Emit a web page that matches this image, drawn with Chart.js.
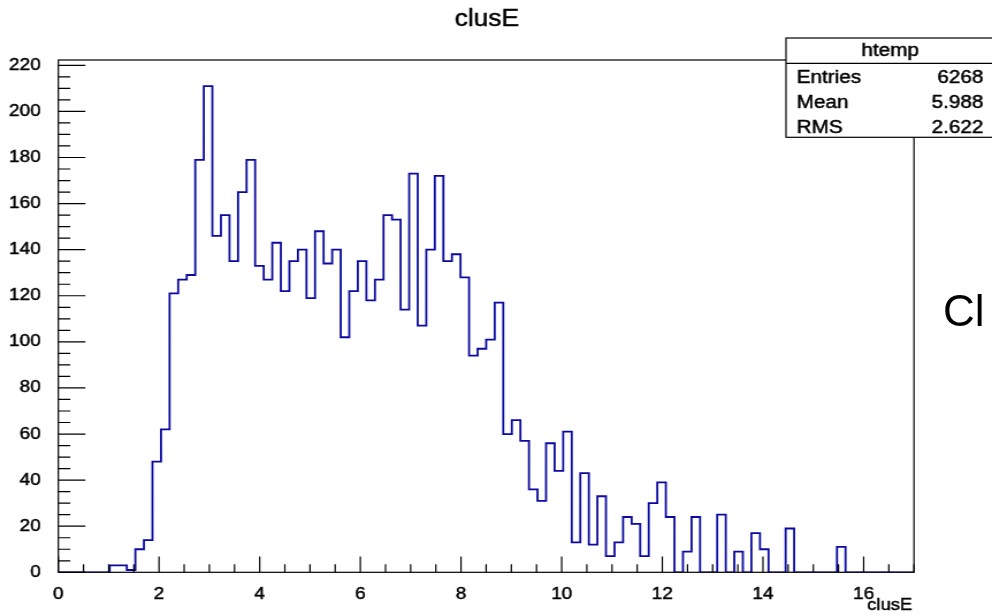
<!DOCTYPE html>
<html>
<head>
<meta charset="utf-8">
<script src="https://cdn.jsdelivr.net/npm/chart.js@4.4.1/dist/chart.umd.min.js"></script>
<style>
  html, body { margin: 0; padding: 0; background: #fff; overflow: hidden; }
  #wrap { position: absolute; left: 0; top: 0; width: 862px; height: 616px;
          transform: scaleX(1.150812); transform-origin: 0 0; }
  #side { position: absolute; left: 943px; top: 289px; font: 44px "Liberation Sans", Arial, sans-serif;
          line-height: 1; color: #000; white-space: nowrap; }
</style>
</head>
<body>
<div id="wrap"><canvas id="c" width="862" height="616" style="width:862px;height:616px"></canvas></div>
<div id="side">Cl</div>
<script>
// ---- data (ROOT histogram "htemp", 100 bins over 0..17) ----
const histTitle = 'clusE';
const axisTitle = 'clusE';
const xMin = 0;
const xMax = 17;
const binCounts = [
  0, 0, 0, 0, 0, 0, 3, 3, 1, 10,
  14, 48, 62, 121, 127, 129, 179, 211, 146, 155,
  135, 165, 179, 133, 127, 143, 122, 135, 140, 119,
  148, 134, 140, 102, 122, 135, 118, 127, 155, 153,
  114, 173, 107, 140, 172, 135, 138, 128, 94, 97,
  101, 117, 60, 66, 57, 36, 31, 56, 44, 61,
  13, 43, 12, 33, 7, 13, 24, 21, 7, 30,
  39, 24, 0, 9, 24, 0, 0, 25, 0, 9,
  0, 17, 10, 0, 0, 19, 0, 0, 0, 0,
  0, 11, 0, 0, 0, 0, 0, 0, 0, 0
];
const yMax = 222.3;
const yTickValues = [0, 20, 40, 60, 80, 100, 120, 140, 160, 180, 200, 220];
const xTickValues = [0, 2, 4, 6, 8, 10, 12, 14, 16];
const statsName = 'htemp';
const statsLabels = ['Entries', 'Mean', 'RMS'];
const statsValues = ['6268', '5.988', '2.622'];

// ---- build step points at the bin edges ----
const nBins = binCounts.length;
const binWidth = (xMax - xMin) / nBins;
const stepPoints = [{ x: xMin, y: 0 }];
binCounts.forEach((c, i) => { stepPoints.push({ x: xMin + (i + 1) * binWidth, y: c }); });

const FONT = '"Liberation Sans", Arial, Helvetica, sans-serif';
const TEXT_STROKE = 0.45;

function heavyText(ctx, txt, x, y) {
  ctx.fillText(txt, x, y);
  ctx.strokeText(txt, x, y);
}

const rootFrame = {
  id: 'rootFrame',
  afterDatasetsDraw(chart) {
    const { ctx, chartArea: { left, right, top, bottom }, scales: { x, y } } = chart;
    ctx.save();
    ctx.strokeStyle = '#000';
    ctx.lineWidth = 1.2;
    ctx.strokeRect(left, top, right - left, bottom - top);
    ctx.beginPath();
    // y ticks: major every 20, minor every 5 (inward)
    for (let k = 0; k * 5 <= yMax; k++) {
      const v = k * 5;
      const py = y.getPixelForValue(v);
      const len = (v % 20 === 0) ? 23.5 : 10.4;
      ctx.moveTo(left, py); ctx.lineTo(left + len, py);
    }
    // x ticks: major every 2, minor every 0.5 (inward)
    for (let k = 0; k * 0.5 <= xMax; k++) {
      const v = k * 0.5;
      const px = x.getPixelForValue(v);
      const len = (k % 4 === 0) ? 15.7 : 8;
      ctx.moveTo(px, bottom); ctx.lineTo(px, bottom - len);
    }
    ctx.stroke();
    ctx.restore();
  },
  afterDraw(chart) {
    const { ctx, chartArea: { right } } = chart;
    ctx.save();
    ctx.fillStyle = '#000';
    ctx.strokeStyle = '#000';
    ctx.lineWidth = TEXT_STROKE;
    ctx.textBaseline = 'middle';
    // histogram title
    ctx.font = '23px ' + FONT;
    ctx.textAlign = 'center';
    heavyText(ctx, histTitle, 423, 19.8);
    // x axis title, right-aligned to axis end
    ctx.font = '16px ' + FONT;
    ctx.textAlign = 'right';
    heavyText(ctx, axisTitle, right - 1.5, 606);

    // stats box
    const bx = 683, by = 38, bw = 200, bh = 99.3, hy = 63.3;
    ctx.fillStyle = '#fff';
    ctx.fillRect(bx, by, bw, bh);
    ctx.lineWidth = 1.2;
    ctx.strokeRect(bx, by, bw, bh);
    ctx.beginPath(); ctx.moveTo(bx, hy); ctx.lineTo(bx + bw, hy); ctx.stroke();
    ctx.fillStyle = '#000';
    ctx.lineWidth = TEXT_STROKE;
    ctx.font = '18px ' + FONT;
    ctx.textAlign = 'center';
    heavyText(ctx, statsName, 773.4, 51.5);
    const rowsY = [78.3, 103.3, 128.3];
    statsLabels.forEach((lab, i) => {
      ctx.textAlign = 'left';
      heavyText(ctx, lab, 692.3, rowsY[i]);
      ctx.textAlign = 'right';
      heavyText(ctx, statsValues[i], 854.5, rowsY[i]);
    });
    ctx.restore();
  }
};

new Chart(document.getElementById('c'), {
  type: 'line',
  data: {
    datasets: [{
      data: stepPoints,
      stepped: 'after',
      borderColor: '#0a0aa0',
      borderWidth: 1.8,
      pointRadius: 0,
      fill: false,
      tension: 0
    }]
  },
  options: {
    responsive: false,
    animation: false,
    devicePixelRatio: 1,
    layout: { padding: { left: 0, right: 67.8, top: 60, bottom: 0 } },
    plugins: {
      legend: { display: false },
      tooltip: { enabled: false },
      title: { display: false }
    },
    scales: {
      x: {
        type: 'linear',
        min: xMin,
        max: xMax,
        grid: { display: false },
        border: { display: false },
        afterBuildTicks: (s) => { s.ticks = xTickValues.map(v => ({ value: v })); },
        afterFit: (s) => { s.height = 43.7; },
        ticks: {
          color: '#000',
          padding: 4.5,
          maxRotation: 0,
          autoSkip: false,
          font: { family: FONT, size: 16.5 },
          textStrokeColor: '#000',
          textStrokeWidth: TEXT_STROKE,
          callback: (v) => String(v)
        }
      },
      y: {
        type: 'linear',
        min: 0,
        max: yMax,
        grid: { display: false },
        border: { display: false },
        afterBuildTicks: (s) => { s.ticks = yTickValues.map(v => ({ value: v })); },
        afterFit: (s) => { s.width = 50.7; },
        ticks: {
          color: '#000',
          padding: 7.3,
          autoSkip: false,
          font: { family: FONT, size: 16.5 },
          textStrokeColor: '#000',
          textStrokeWidth: TEXT_STROKE,
          callback: (v) => String(v)
        }
      }
    }
  },
  plugins: [rootFrame]
});
</script>
</body>
</html>
